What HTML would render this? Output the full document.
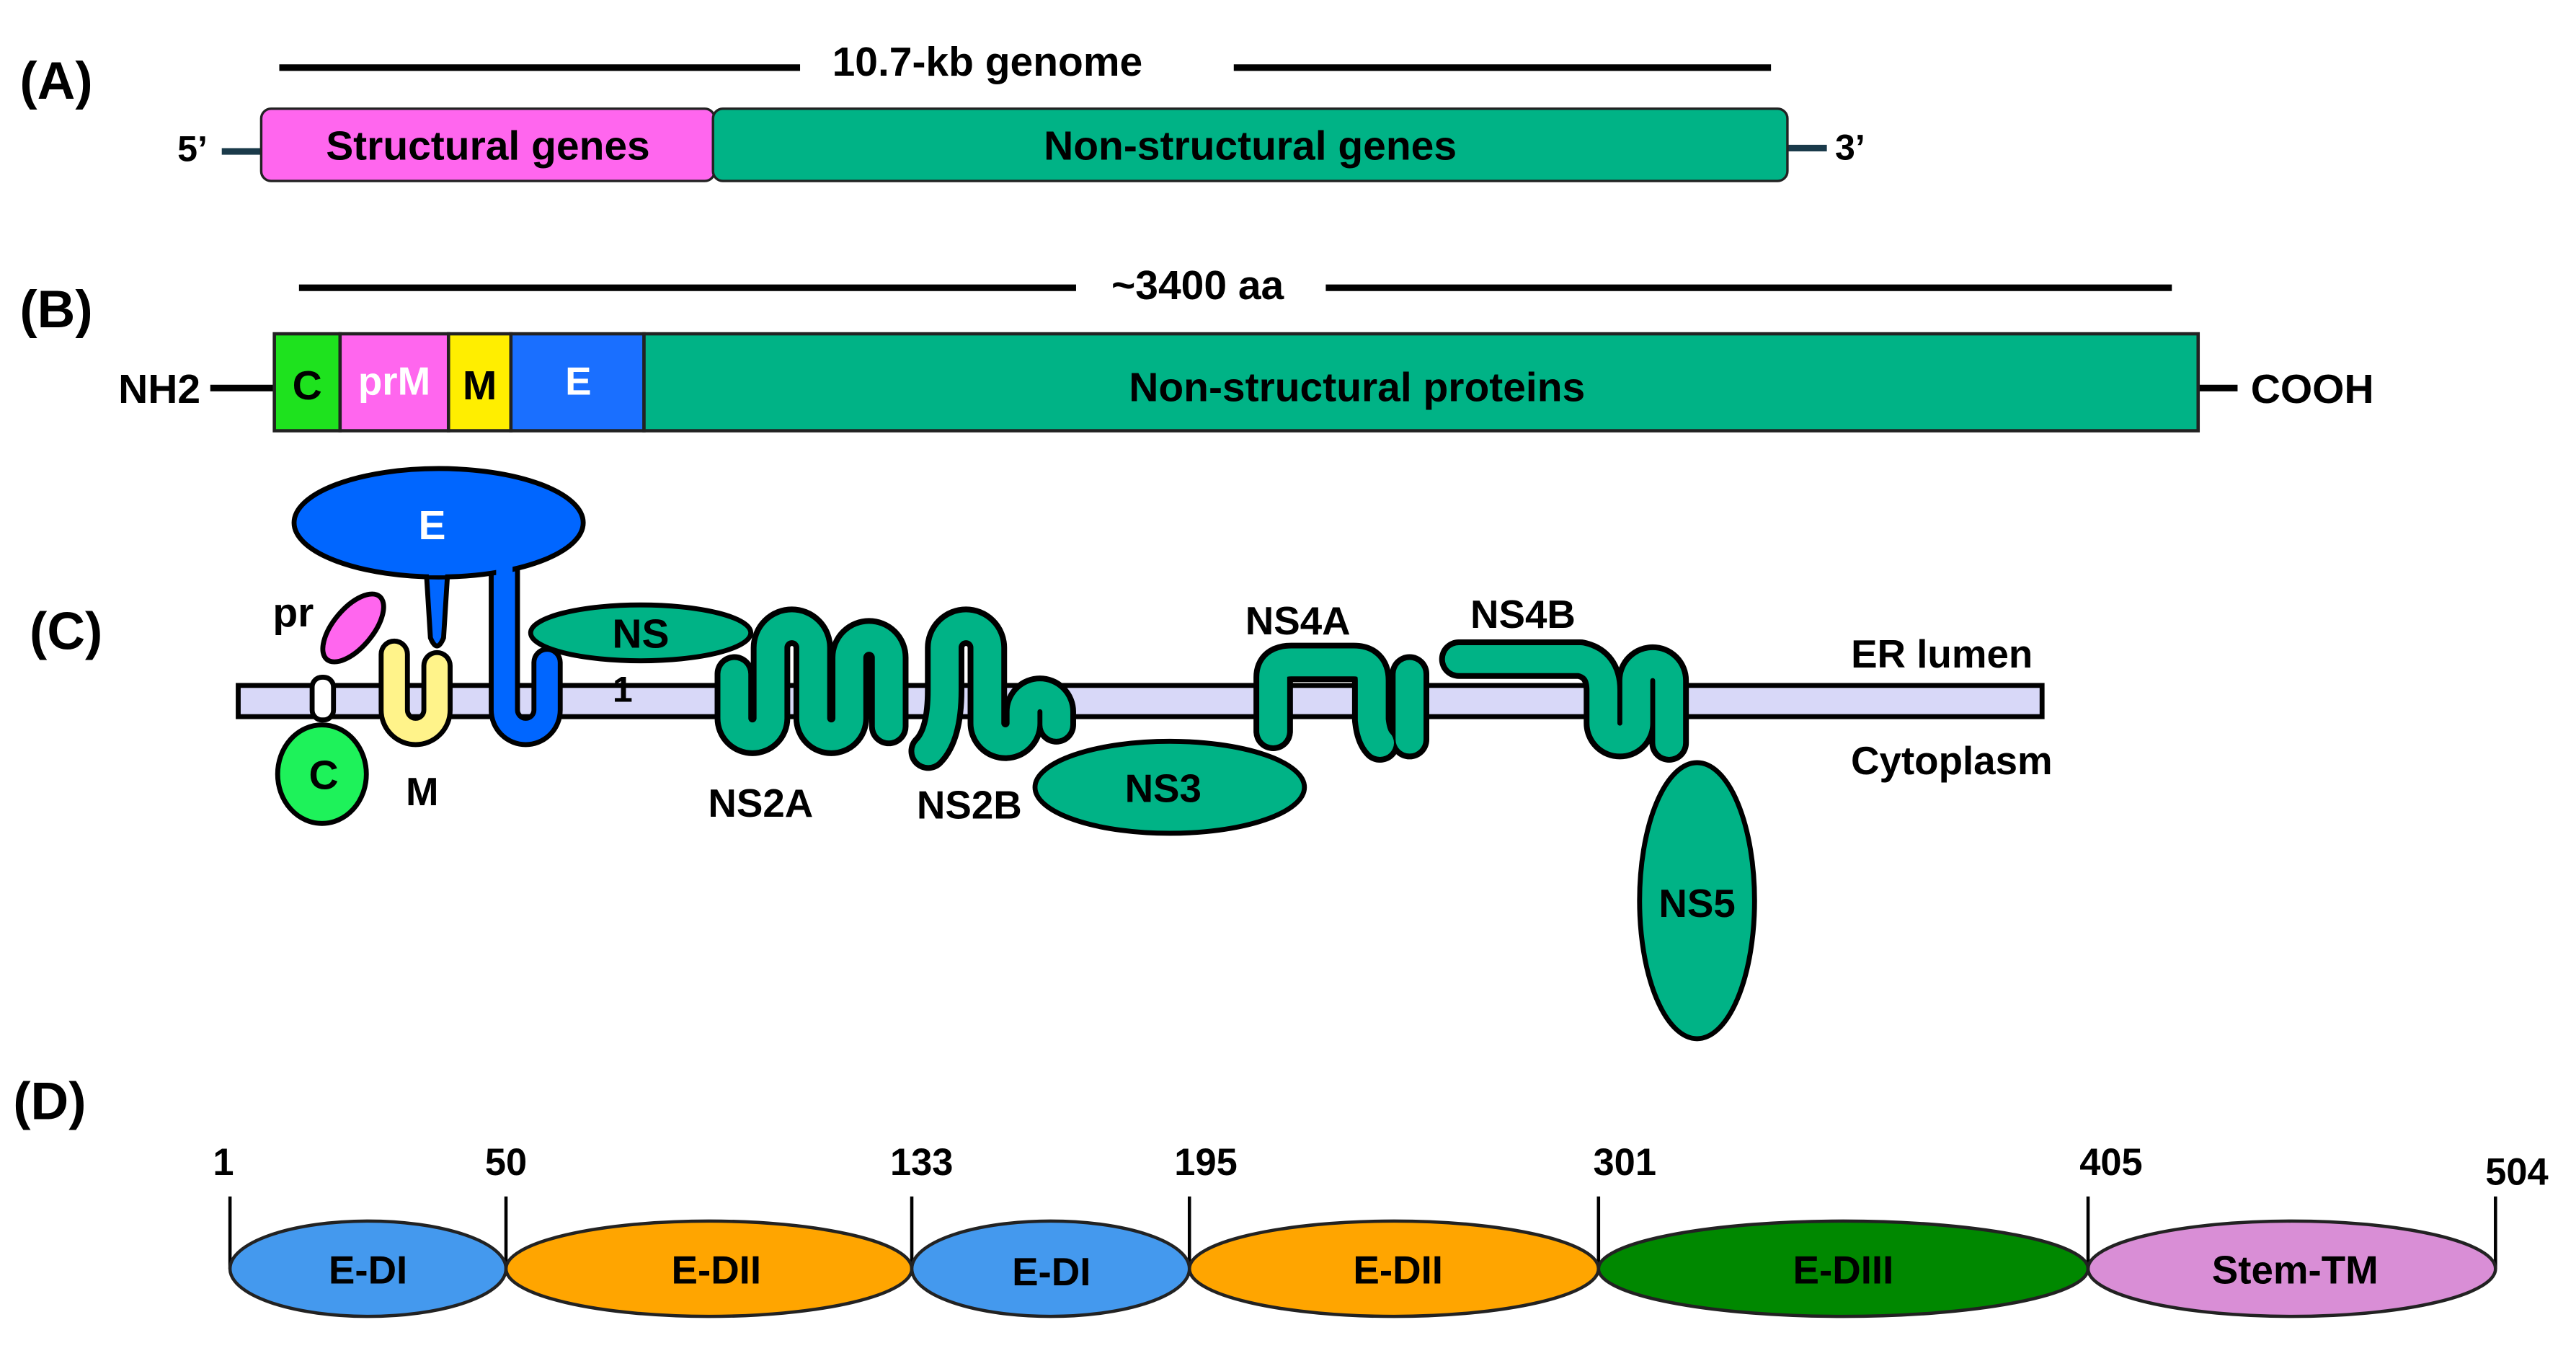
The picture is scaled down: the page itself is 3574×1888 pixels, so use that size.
<!DOCTYPE html>
<html><head><meta charset="utf-8"><style>
html,body{margin:0;padding:0;background:#fff;}
svg{display:block;}
text{font-family:"Liberation Sans",sans-serif;font-weight:bold;}
</style></head><body>
<svg width="3574" height="1888" viewBox="0 0 1568 828" xmlns="http://www.w3.org/2000/svg">
<rect width="1568" height="828" fill="#fff"/>
<!-- Panel A -->
<text x="12" y="60" font-size="32" font-weight="normal">(<tspan font-weight="bold">A</tspan>)</text>
<line x1="170" y1="41" x2="487" y2="41" stroke="#000" stroke-width="4"/>
<line x1="751" y1="41" x2="1078" y2="41" stroke="#000" stroke-width="4"/>
<text x="601" y="46" font-size="25" text-anchor="middle">10.7-kb genome</text>
<line x1="135" y1="92" x2="160" y2="92" stroke="#1a3a4a" stroke-width="4"/>
<line x1="1088" y1="90" x2="1112" y2="90" stroke="#1a3a4a" stroke-width="4"/>
<text x="108" y="98" font-size="22">5’</text>
<text x="1117" y="97" font-size="22">3’</text>
<rect x="159" y="66" width="276" height="44" rx="6" fill="#ff66ee" stroke="#222" stroke-width="1.5"/>
<rect x="434" y="66" width="654" height="44" rx="6" fill="#00b386" stroke="#222" stroke-width="1.5"/>
<text x="297" y="97" font-size="25" text-anchor="middle">Structural genes</text>
<text x="761" y="97" font-size="25" text-anchor="middle">Non-structural genes</text>
<!-- Panel B -->
<text x="12" y="199" font-size="32" font-weight="normal">(<tspan font-weight="bold">B</tspan>)</text>
<line x1="182" y1="175" x2="655" y2="175" stroke="#000" stroke-width="4"/>
<line x1="807" y1="175" x2="1322" y2="175" stroke="#000" stroke-width="4"/>
<text x="729" y="182" font-size="25" text-anchor="middle">~3400 aa</text>
<line x1="128" y1="236" x2="167" y2="236" stroke="#000" stroke-width="4"/>
<line x1="1338" y1="236" x2="1362" y2="236" stroke="#000" stroke-width="4"/>
<text x="72" y="245" font-size="25">NH2</text>
<text x="1370" y="245" font-size="25">COOH</text>
<g stroke="#222" stroke-width="2">
<rect x="167" y="203" width="40" height="59" fill="#1ee21e"/>
<rect x="207" y="203" width="66" height="59" fill="#ff66ee"/>
<rect x="273" y="203" width="38" height="59" fill="#ffee00"/>
<rect x="311" y="203" width="81" height="59" fill="#1a6fff"/>
<rect x="392" y="203" width="946" height="59" fill="#00b386"/>
</g>
<text x="187" y="243" font-size="25" text-anchor="middle">C</text>
<text x="240" y="240" font-size="24" text-anchor="middle" fill="#fff">prM</text>
<text x="292" y="243" font-size="25" text-anchor="middle">M</text>
<text x="352" y="240" font-size="24" text-anchor="middle" fill="#fff">E</text>
<text x="826" y="244" font-size="25" text-anchor="middle">Non-structural proteins</text>
<!-- Panel C -->
<text x="18" y="395" font-size="32" font-weight="normal">(<tspan font-weight="bold">C</tspan>)</text>
<rect x="145" y="417" width="1098" height="19" fill="#d8d8f8" stroke="#000" stroke-width="3"/>
<g stroke-linecap="round" stroke-linejoin="round" fill="none">
<path d="M307,335 V432 A13,13 0 0 0 333,432 V403" stroke="#000" stroke-width="19"/>
<path d="M307,335 V432 A13,13 0 0 0 333,432 V403" stroke="#0066ff" stroke-width="13"/>
<path d="M240,398 V432 A13,13 0 0 0 266,432 V405" stroke="#000" stroke-width="19"/>
<path d="M240,398 V432 A13,13 0 0 0 266,432 V405" stroke="#fff38a" stroke-width="13"/>
</g>
<path d="M259,340 L273,340 L270,388 Q266,398 262,388 Z" fill="#0066ff" stroke="#000" stroke-width="3"/>
<ellipse cx="267" cy="318" rx="88" ry="33" fill="#0066ff" stroke="#000" stroke-width="3"/>
<rect x="261" y="330" width="10" height="20" fill="#0066ff"/>
<rect x="302" y="330" width="10" height="20" fill="#0066ff"/>
<text x="263" y="328" font-size="25" text-anchor="middle" fill="#fff">E</text>
<ellipse cx="215" cy="382" rx="12" ry="25" transform="rotate(40 215 382)" fill="#ff66ee" stroke="#000" stroke-width="3"/>
<rect x="190" y="412" width="13" height="26" rx="6" fill="#fff" stroke="#000" stroke-width="3"/>
<ellipse cx="196" cy="471" rx="27" ry="30" fill="#1ef25a" stroke="#000" stroke-width="3"/>
<text x="197" y="480" font-size="25" text-anchor="middle">C</text>
<text x="166" y="381" font-size="25">pr</text>
<text x="257" y="490" font-size="24" text-anchor="middle">M</text>
<ellipse cx="390" cy="385" rx="67" ry="17" fill="#00b386" stroke="#000" stroke-width="3"/>
<text x="390" y="394" font-size="25" text-anchor="middle">NS</text>
<text x="379" y="427" font-size="22" text-anchor="middle">1</text>
<g stroke-linecap="round" stroke-linejoin="round" fill="none" stroke="#000" stroke-width="24">
<path d="M447,410 V437 A11,11 0 0 0 469,437 V394 A13,13 0 0 1 495,394 V437 A11,11 0 0 0 517,437 V400 A12,12 0 0 1 541,400 V442"/>
<path d="M565,457 Q575,447 575,420 V394 A13,13 0 0 1 601,394 V440 A11,11 0 0 0 623,440 V433 A10,10 0 0 1 643,433 V441"/>
<path d="M775,445 V412 Q775,403 786,403 H824 Q835,403 835,414 V438 Q836,448 840,452"/>
<path d="M858,410 V450"/>
<path d="M888,401 H962 Q976,404 976,420 V440 A10,10 0 0 0 996,440 V414 A10,10 0 0 1 1016,414 V452"/>
</g>
<g stroke-linecap="round" stroke-linejoin="round" fill="none" stroke="#00b386" stroke-width="17">
<path d="M447,410 V437 A11,11 0 0 0 469,437 V394 A13,13 0 0 1 495,394 V437 A11,11 0 0 0 517,437 V400 A12,12 0 0 1 541,400 V442"/>
<path d="M565,457 Q575,447 575,420 V394 A13,13 0 0 1 601,394 V440 A11,11 0 0 0 623,440 V433 A10,10 0 0 1 643,433 V441"/>
<path d="M775,445 V412 Q775,403 786,403 H824 Q835,403 835,414 V438 Q836,448 840,452"/>
<path d="M858,410 V450"/>
<path d="M888,401 H962 Q976,404 976,420 V440 A10,10 0 0 0 996,440 V414 A10,10 0 0 1 1016,414 V452"/>
</g>
<ellipse cx="712" cy="479" rx="82" ry="28" fill="#00b386" stroke="#000" stroke-width="3"/>
<ellipse cx="1033" cy="548" rx="35" ry="84" fill="#00b386" stroke="#000" stroke-width="3"/>
<text x="463" y="497" font-size="24" text-anchor="middle">NS2A</text>
<text x="590" y="498" font-size="24" text-anchor="middle">NS2B</text>
<text x="708" y="488" font-size="24" text-anchor="middle">NS3</text>
<text x="790" y="386" font-size="24" text-anchor="middle">NS4A</text>
<text x="927" y="382" font-size="24" text-anchor="middle">NS4B</text>
<text x="1033" y="558" font-size="24" text-anchor="middle">NS5</text>
<text x="1182" y="406" font-size="24" text-anchor="middle">ER lumen</text>
<text x="1188" y="471" font-size="24" text-anchor="middle">Cytoplasm</text>
<!-- Panel D -->
<text x="8" y="681" font-size="32" font-weight="normal">(<tspan font-weight="bold">D</tspan>)</text>
<g stroke="#000" stroke-width="2">
<line x1="140" y1="728" x2="140" y2="772"/><line x1="308" y1="728" x2="308" y2="772"/>
<line x1="555" y1="728" x2="555" y2="772"/><line x1="724" y1="728" x2="724" y2="772"/>
<line x1="973" y1="728" x2="973" y2="772"/><line x1="1271" y1="728" x2="1271" y2="772"/>
<line x1="1519" y1="728" x2="1519" y2="772"/>
</g>
<g font-size="23">
<text x="136" y="715" text-anchor="middle">1</text>
<text x="308" y="715" text-anchor="middle">50</text>
<text x="561" y="715" text-anchor="middle">133</text>
<text x="734" y="715" text-anchor="middle">195</text>
<text x="989" y="715" text-anchor="middle">301</text>
<text x="1285" y="715" text-anchor="middle">405</text>
<text x="1532" y="721" text-anchor="middle">504</text>
</g>
<g stroke="#222" stroke-width="2">
<ellipse cx="224" cy="772" rx="84" ry="29" fill="#4499ee"/>
<ellipse cx="431.5" cy="772" rx="123.5" ry="29" fill="#ffa500"/>
<ellipse cx="639.5" cy="772" rx="84.5" ry="29" fill="#4499ee"/>
<ellipse cx="848.5" cy="772" rx="124.5" ry="29" fill="#ffa500"/>
<ellipse cx="1122" cy="772" rx="149" ry="29" fill="#008800"/>
<ellipse cx="1395" cy="772" rx="124" ry="29" fill="#d98ed6"/>
</g>
<g font-size="24" text-anchor="middle" font-weight="normal">
<text x="224" y="781">E-DI</text>
<text x="436" y="781">E-DII</text>
<text x="640" y="782">E-DI</text>
<text x="851" y="781">E-DII</text>
<text x="1122" y="781">E-DIII</text>
<text x="1397" y="781">Stem-TM</text>
</g>
</svg>
</body></html>
